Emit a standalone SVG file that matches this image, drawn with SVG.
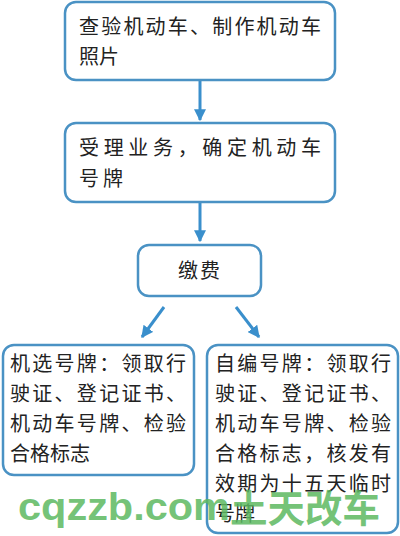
<svg xmlns="http://www.w3.org/2000/svg" width="400" height="536" viewBox="0 0 400 536">
<defs>
<marker id="ah" viewBox="0 0 10 10" refX="9" refY="5" markerWidth="4" markerHeight="4" orient="auto" markerUnits="strokeWidth">
<path d="M0,0 L10,5 L0,10 Z" fill="#3a8fcc"/>
</marker>
<style>
.box{fill:#fff;stroke:#4a92c4;stroke-width:2.5}
.t{font-family:"Noto Sans CJK SC","Liberation Sans",sans-serif;font-size:20px;fill:#222}
.conn{stroke:#3a8fcc;stroke-width:3;fill:none;marker-end:url(#ah)}
.wm{font-family:"Liberation Sans","Noto Sans CJK SC",sans-serif;font-weight:bold;font-size:38px;fill:#5cb860;fill-opacity:0.85}
</style>
</defs>
<rect width="400" height="536" fill="#fff"/>
<g id="connectors">
<line class="conn" x1="200" y1="81" x2="200" y2="120"/>
<line class="conn" x1="200" y1="203" x2="200" y2="241"/>
<line class="conn" x1="164" y1="307" x2="142" y2="337"/>
<line class="conn" x1="236" y1="307" x2="259" y2="337"/>
</g>
<g id="n1">
<rect class="box" x="65" y="2" width="270" height="78" rx="11"/>
<text class="t" x="79" y="34" textLength="242" lengthAdjust="spacing">查验机动车、制作机动车</text>
<text class="t" x="79" y="64">照片</text>
</g>
<g id="n2">
<rect class="box" x="65" y="123" width="270" height="79" rx="11"/>
<text class="t" x="79" y="155" textLength="242" lengthAdjust="spacing">受理业务，确定机动车</text>
<text class="t" x="79" y="186" letter-spacing="4">号牌</text>
</g>
<g id="n3">
<rect class="box" x="138" y="245" width="123" height="51" rx="11"/>
<text class="t" x="200" y="278" text-anchor="middle" letter-spacing="2">缴费</text>
</g>
<g id="n4">
<rect class="box" x="3" y="345" width="191" height="130" rx="11"/>
<text class="t" x="10" y="371" textLength="176" lengthAdjust="spacing">机选号牌：领取行</text>
<text class="t" x="10" y="401" textLength="176" lengthAdjust="spacing">驶证、登记证书、</text>
<text class="t" x="10" y="431" textLength="176" lengthAdjust="spacing">机动车号牌、检验</text>
<text class="t" x="10" y="461">合格标志</text>
</g>
<g id="n5">
<rect class="box" x="207" y="345" width="191" height="188" rx="11"/>
<text class="t" x="215" y="371" textLength="176" lengthAdjust="spacing">自编号牌：领取行</text>
<text class="t" x="215" y="401" textLength="176" lengthAdjust="spacing">驶证、登记证书、</text>
<text class="t" x="215" y="431" textLength="176" lengthAdjust="spacing">机动车号牌、检验</text>
<text class="t" x="215" y="461" textLength="176" lengthAdjust="spacing">合格标志，核发有</text>
<text class="t" x="215" y="491" textLength="176" lengthAdjust="spacing">效期为十五天临时</text>
<text class="t" x="215" y="521">号牌</text>
</g>
<g id="watermark">
<text class="wm" x="18" y="520" textLength="212" lengthAdjust="spacingAndGlyphs">cqzzb.com</text>
<text class="wm" x="230" y="522" textLength="150" lengthAdjust="spacingAndGlyphs" font-family="Noto Sans CJK SC, sans-serif">土天改车</text>
</g>
</svg>
